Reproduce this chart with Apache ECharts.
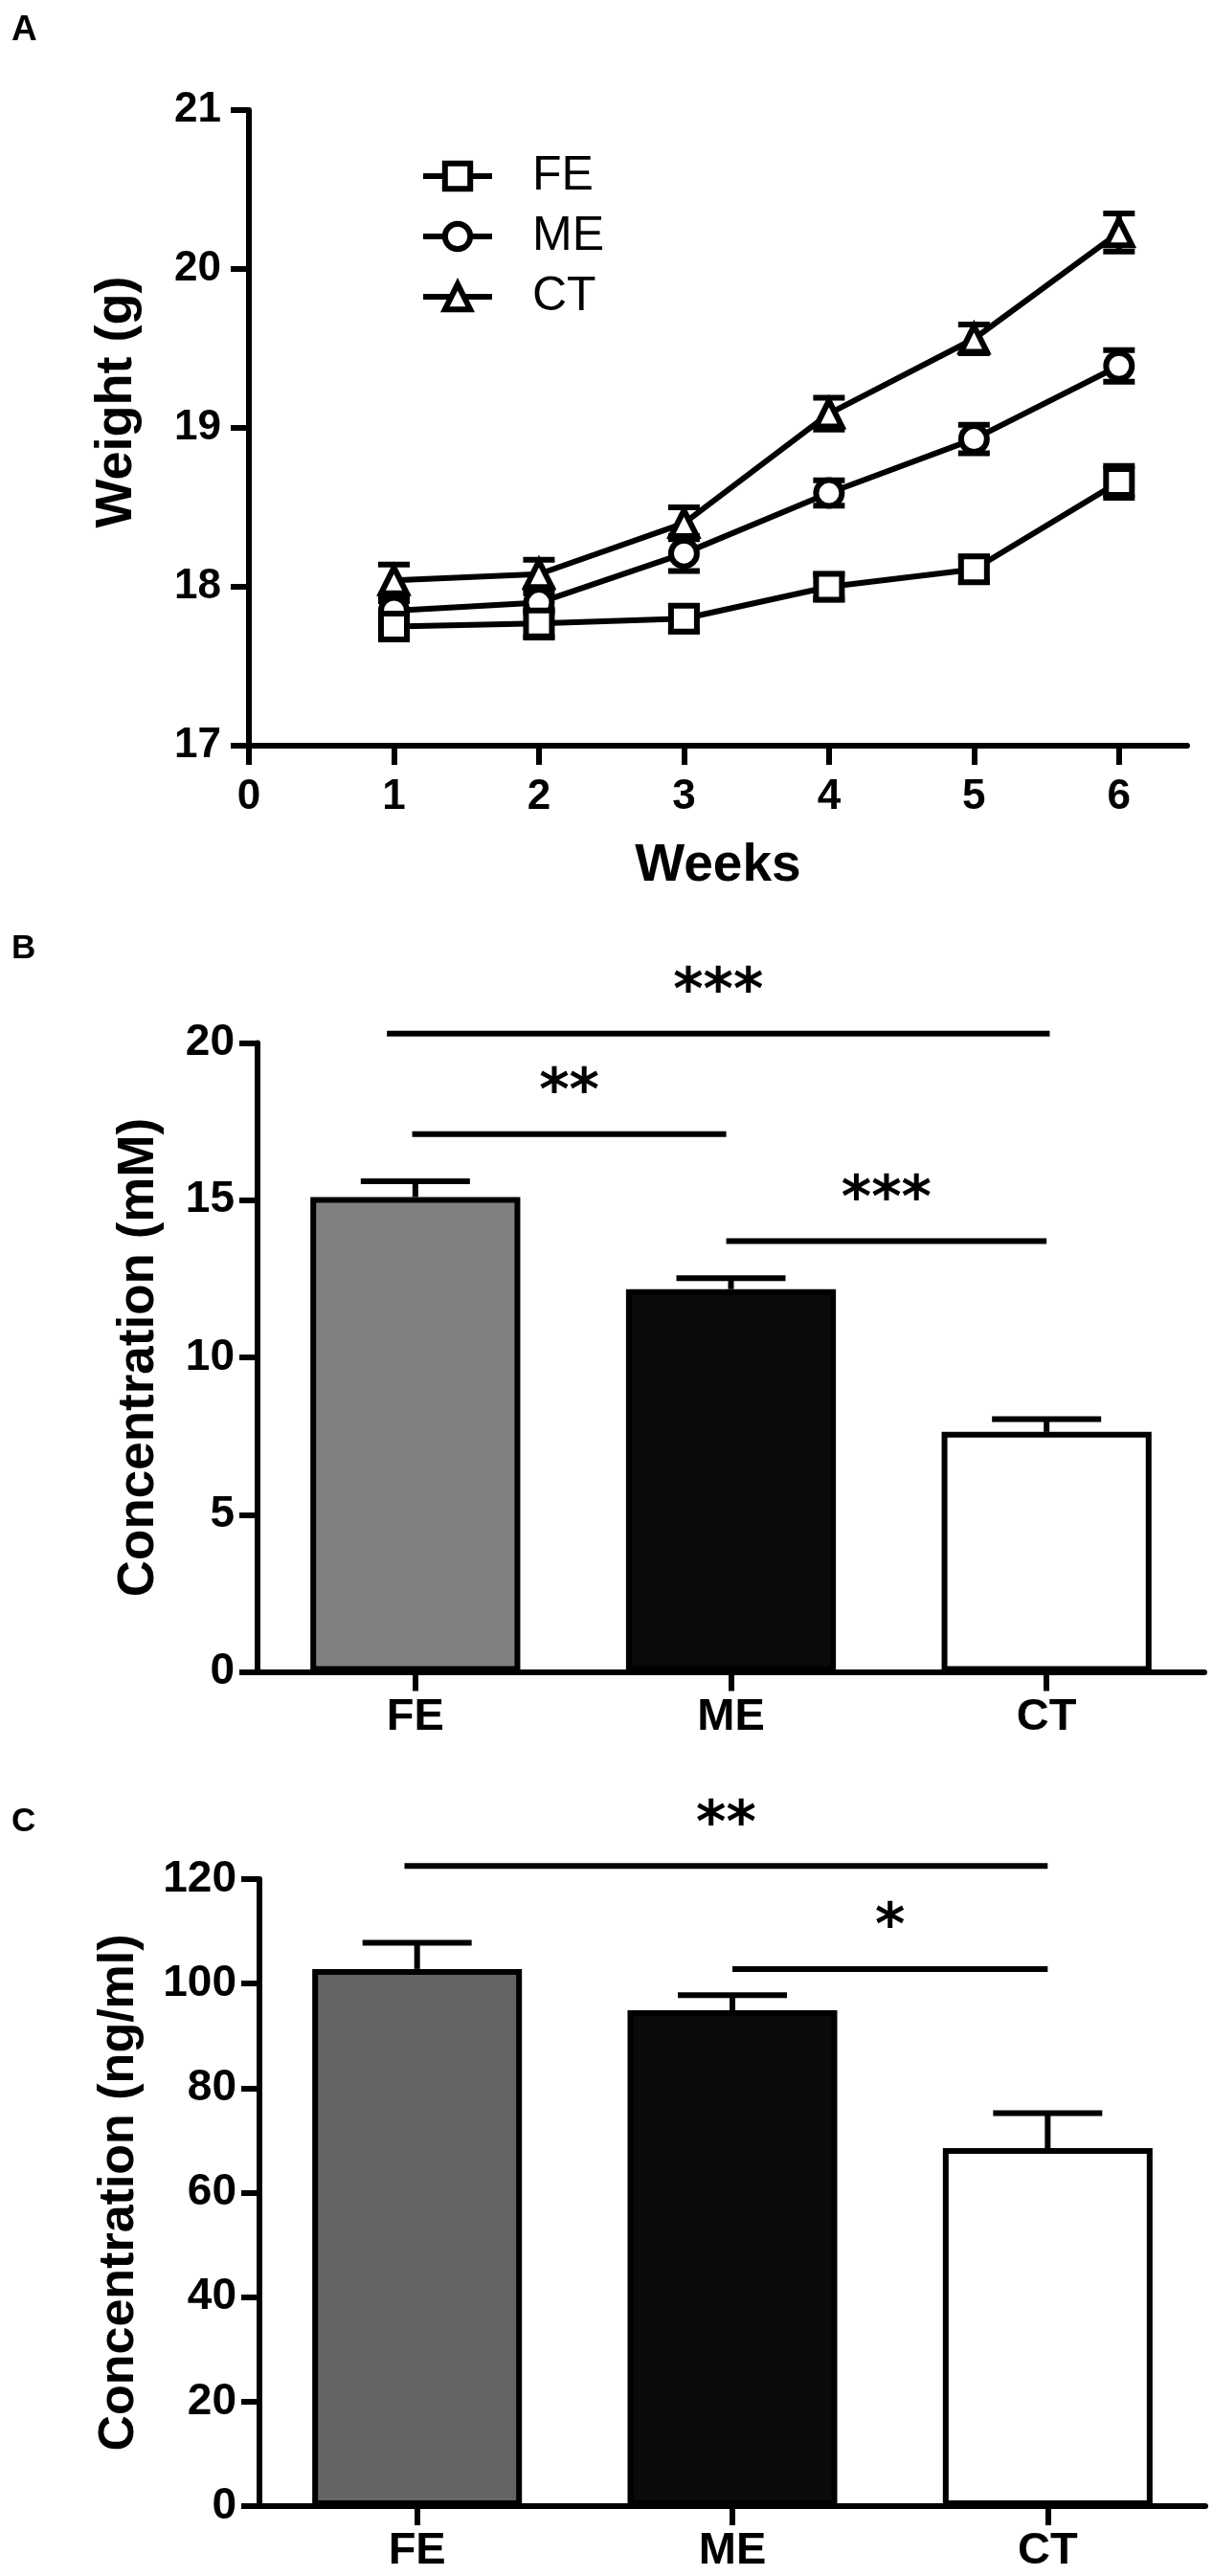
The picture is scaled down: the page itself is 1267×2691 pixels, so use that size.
<!DOCTYPE html>
<html><head><meta charset="utf-8">
<script src="https://cdn.jsdelivr.net/npm/echarts@6/dist/echarts.min.js"></script>
<style>html,body{margin:0;padding:0;background:#fff}#c{width:1267px;height:2691px}</style>
</head><body><div id="c"></div>
<script>
// ---------- data ----------
const weeks = [1, 2, 3, 4, 5, 6];
const weekTicks = [0, 1, 2, 3, 4, 5, 6];
const feWeight = [17.75, 17.77, 17.80, 18.00, 18.11, 18.66];
const feWeightErr = [0.08, 0.09, 0.08, 0.08, 0.08, 0.10];
const meWeight = [17.85, 17.90, 18.21, 18.59, 18.93, 19.39];
const meWeightErr = [0.06, 0.06, 0.11, 0.08, 0.09, 0.10];
const ctWeight = [18.04, 18.08, 18.40, 19.09, 19.56, 20.23];
const ctWeightErr = [0.10, 0.09, 0.10, 0.10, 0.09, 0.12];

const groups = ['FE', 'ME', 'CT'];
const concMM = [15.1, 12.17, 7.63];
const concMMErr = [0.5, 0.35, 0.41];
const concNg = [102.8, 94.9, 68.5];
const concNgErr = [5.0, 2.9, 6.7];

// significance brackets: [from (category units), to (category units), y value]
const sigB = [[-0.09, 2.01, 20.3], [-0.01, 0.985, 17.1], [0.985, 2.0, 13.7]];
const sigBLabels = ['***', '**', '***'];
const sigC = [[-0.04, 2.0, 122.5], [1.0, 2.0, 102.8]];
const sigCLabels = ['**', '*'];

// ---------- styles ----------
const font = '"Liberation Sans", Arial, Helvetica, sans-serif';
const barColorsB = ['#808080', '#0a0a0c', '#ffffff'];
const barColorsC = ['#646464', '#0a0a0c', '#ffffff'];
const black = '#000';

function errBoth(params, api) {
  const x = api.value(0), m = api.value(1), e = api.value(2);
  const lo = api.coord([x, m - e]), hi = api.coord([x, m + e]);
  const hw = 16.5, st = { stroke: black, lineWidth: 6 };
  return { type: 'group', children: [
    { type: 'line', shape: { x1: lo[0], y1: lo[1], x2: hi[0], y2: hi[1] }, style: st },
    { type: 'line', shape: { x1: lo[0] - hw, y1: lo[1], x2: lo[0] + hw, y2: lo[1] }, style: st },
    { type: 'line', shape: { x1: hi[0] - hw, y1: hi[1], x2: hi[0] + hw, y2: hi[1] }, style: st }
  ]};
}
function errUp(params, api) {
  const x = api.value(0), m = api.value(1), e = api.value(2);
  const lo = api.coord([x, m]), hi = api.coord([x, m + e]);
  const hw = 57, st = { stroke: black, lineWidth: 6 };
  return { type: 'group', children: [
    { type: 'line', shape: { x1: lo[0], y1: lo[1], x2: hi[0], y2: hi[1] }, style: st },
    { type: 'line', shape: { x1: hi[0] - hw, y1: hi[1], x2: hi[0] + hw, y2: hi[1] }, style: st }
  ]};
}
function sigRender(labels) {
  return function (params, api) {
    const x0 = api.coord([0, 0])[0];
    const band = api.size([1, 0])[0];
    const v = api.value(1), a = api.value(2), b = api.value(3);
    const y = api.coord([0, v])[1];
    const xa = x0 + a * band, xb = x0 + b * band;
    return { type: 'group', children: [
      { type: 'line', shape: { x1: xa, y1: y, x2: xb, y2: y }, style: { stroke: black, lineWidth: 6 } },
      { type: 'text', style: { text: labels[params.dataIndex], x: (xa + xb) / 2, y: y - 41,
        align: 'center', verticalAlign: 'middle', font: 'bold 60px "DejaVu Sans", sans-serif', fill: black } }
    ]};
  };
}

function axisLine() { return { show: true, onZero: false, lineStyle: { color: black, width: 6 } }; }
function axisTick(len, extra) { return Object.assign({ show: true, inside: false, length: len, lineStyle: { color: black, width: 6 } }, extra || {}); }
function label(size, margin, extra) { return Object.assign({ fontSize: size, fontWeight: 'bold', color: black, margin: margin, fontFamily: font }, extra || {}); }
function nameStyle(size, extra) { return Object.assign({ fontSize: size, fontWeight: 'bold', color: black, fontFamily: font }, extra || {}); }

function lineSeries(name, vals, symbol) {
  return { type: 'line', name: name, xAxisIndex: 0, yAxisIndex: 0,
    data: weeks.map((w, i) => [w, vals[i]]), symbol: symbol, symbolSize: 27,
    lineStyle: { color: black, width: 6 },
    itemStyle: { color: '#fff', borderColor: black, borderWidth: 6 }, z: 3 };
}
function errSeries(vals, errs) {
  return { type: 'custom', xAxisIndex: 0, yAxisIndex: 0, z: 1, silent: true,
    data: weeks.map((w, i) => [w, vals[i], errs[i]]), renderItem: errBoth };
}

const option = {
  animation: false,
  backgroundColor: '#fff',
  textStyle: { fontFamily: font },
  graphic: [
    { type: 'text', left: 12, top: 13, style: { text: 'A', font: 'bold 37px ' + font, fill: black } },
    { type: 'text', left: 12, top: 974, style: { text: 'B', font: 'bold 35px ' + font, fill: black } },
    { type: 'text', left: 12, top: 1886, style: { text: 'C', font: 'bold 35px ' + font, fill: black } }
  ],
  legend: {
    data: ['FE', 'ME', 'CT'], orient: 'vertical', left: 439, top: 159, padding: 0,
    itemWidth: 72, itemHeight: 33, itemGap: 13,
    itemStyle: { color: '#fff', borderColor: black, borderWidth: 6 },
    lineStyle: { color: black, width: 6 },
    textStyle: { fontSize: 50, color: black, fontFamily: font, lineHeight: 33, padding: [0, 0, 0, 37] }
  },
  grid: [
    { left: 260, top: 115, width: 980, height: 664 },
    { left: 269, top: 1089.5, width: 989, height: 657 },
    { left: 271, top: 1963, width: 988, height: 655 }
  ],
  xAxis: [
    { gridIndex: 0, type: 'value', min: 0, max: 6.47, interval: 1, splitLine: { show: false },
      axisLine: axisLine(), axisTick: axisTick(20, { customValues: weekTicks }),
      axisLabel: label(44, 32, { customValues: weekTicks }),
      name: 'Weeks', nameLocation: 'middle', nameGap: 98, nameTextStyle: nameStyle(55) },
    { gridIndex: 1, type: 'category', data: groups, axisLine: axisLine(),
      axisTick: axisTick(20, { alignWithLabel: true }), axisLabel: label(47, 24) },
    { gridIndex: 2, type: 'category', data: groups, axisLine: axisLine(),
      axisTick: axisTick(20, { alignWithLabel: true }), axisLabel: label(47, 24) }
  ],
  yAxis: [
    { gridIndex: 0, type: 'value', min: 17, max: 21, interval: 1, splitLine: { show: false },
      axisLine: axisLine(), axisTick: axisTick(19), axisLabel: label(44, 29),
      name: 'Weight (g)', nameLocation: 'middle', nameGap: 111,
      nameTextStyle: nameStyle(54, { padding: [0, 0, 0, 54] }) },
    { gridIndex: 1, type: 'value', min: 0, max: 20, interval: 5, splitLine: { show: false },
      axisLine: axisLine(), axisTick: axisTick(19), axisLabel: label(46, 24),
      name: 'Concentration (mM)', nameLocation: 'middle', nameGap: 97, nameTextStyle: nameStyle(53) },
    { gridIndex: 2, type: 'value', min: 0, max: 120, interval: 20, splitLine: { show: false },
      axisLine: axisLine(), axisTick: axisTick(19), axisLabel: label(46, 24),
      name: 'Concentration (ng/ml)', nameLocation: 'middle', nameGap: 120, nameTextStyle: nameStyle(52) }
  ],
  series: [
    errSeries(ctWeight, ctWeightErr),
    errSeries(meWeight, meWeightErr),
    errSeries(feWeight, feWeightErr),
    lineSeries('CT', ctWeight, 'triangle'),
    lineSeries('ME', meWeight, 'circle'),
    lineSeries('FE', feWeight, 'rect'),

    { type: 'bar', xAxisIndex: 1, yAxisIndex: 1, barWidth: '66.5%', z: 2,
      data: concMM.map((v, i) => ({ value: v, itemStyle: { color: barColorsB[i] } })),
      itemStyle: { borderColor: black, borderWidth: 6 } },
    { type: 'custom', xAxisIndex: 1, yAxisIndex: 1, z: 1, silent: true,
      data: concMM.map((v, i) => [i, v, concMMErr[i]]), renderItem: errUp },
    { type: 'custom', xAxisIndex: 1, yAxisIndex: 1, z: 3, silent: true, clip: false,
      data: sigB.map(s => [0, s[2], s[0], s[1]]), renderItem: sigRender(sigBLabels) },

    { type: 'bar', xAxisIndex: 2, yAxisIndex: 2, barWidth: '66.5%', z: 2,
      data: concNg.map((v, i) => ({ value: v, itemStyle: { color: barColorsC[i] } })),
      itemStyle: { borderColor: black, borderWidth: 6 } },
    { type: 'custom', xAxisIndex: 2, yAxisIndex: 2, z: 1, silent: true,
      data: concNg.map((v, i) => [i, v, concNgErr[i]]), renderItem: errUp },
    { type: 'custom', xAxisIndex: 2, yAxisIndex: 2, z: 3, silent: true, clip: false,
      data: sigC.map(s => [0, s[2], s[0], s[1]]), renderItem: sigRender(sigCLabels) }
  ]
};
const chart = echarts.init(document.getElementById('c'), null, { renderer: 'canvas' });
chart.setOption(option);
</script></body></html>
